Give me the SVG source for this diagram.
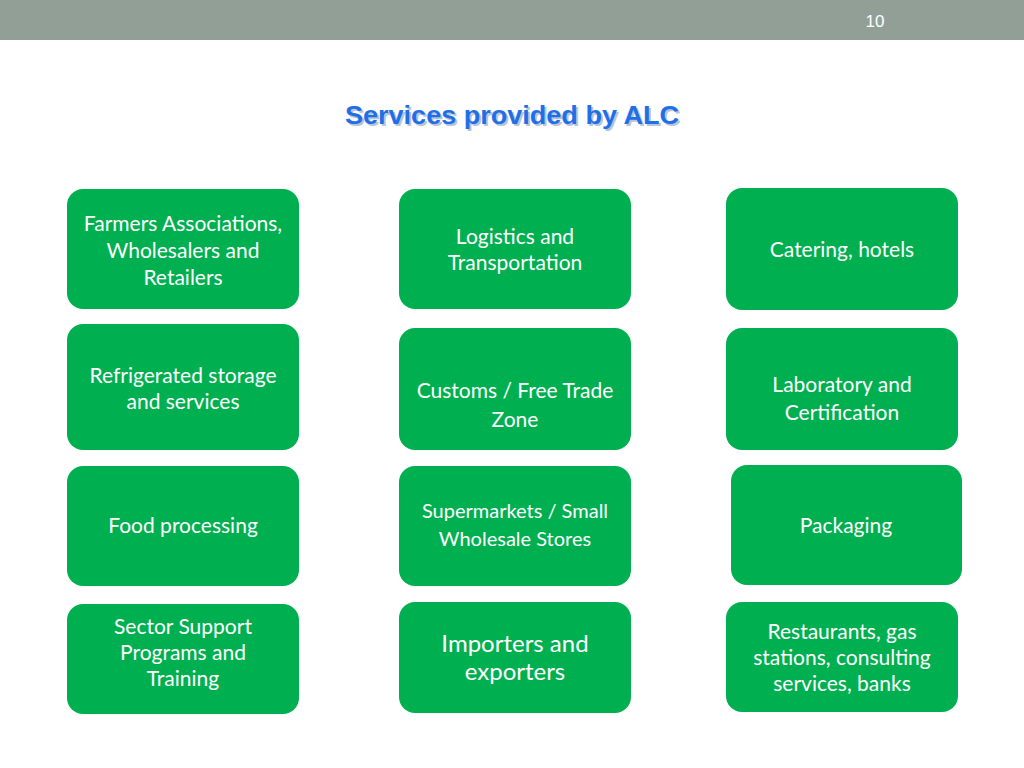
<svg xmlns="http://www.w3.org/2000/svg" width="1024" height="768" viewBox="0 0 1024 768">
<defs>
<style>
.box{fill:#00b050;}
.t{font-family:Lato,"Open Sans","Liberation Sans",sans-serif;font-size:21px;fill:#ffffff;text-anchor:middle;dominant-baseline:central;}
.title{font-family:"Liberation Sans",Arial,sans-serif;font-weight:bold;font-size:26px;fill:#1f6fe6;text-anchor:middle;}
.shadow{font-family:"Liberation Sans",Arial,sans-serif;font-weight:bold;font-size:26px;fill:#b8c4d8;text-anchor:middle;}
</style>
</defs>
<rect x="0" y="0" width="1024" height="768" fill="#ffffff"/>
<rect x="0" y="0" width="1024" height="40" fill="#919f97"/>
<text x="875" y="21" font-family="'Liberation Sans',Arial,sans-serif" font-size="17" fill="#ffffff" text-anchor="middle" dominant-baseline="central">10</text>
<text class="shadow" x="514" y="126" textLength="334" lengthAdjust="spacingAndGlyphs">Services provided by ALC</text>
<text class="title" x="512" y="124" textLength="334" lengthAdjust="spacingAndGlyphs">Services provided by ALC</text>

<g id="n1"><rect class="box" x="67" y="189" width="232" height="120" rx="16"/>
<text class="t" x="183" y="222">Farmers Associations,</text><text class="t" x="183" y="249">Wholesalers and</text><text class="t" x="183" y="276">Retailers</text></g>
<g id="n2"><rect class="box" x="399" y="189" width="232" height="120" rx="16"/>
<text class="t" x="515" y="235">Logistics and</text><text class="t" x="515" y="261">Transportation</text></g>
<g id="n3"><rect class="box" x="726" y="188" width="232" height="122" rx="16"/>
<text class="t" x="842" y="248">Catering, hotels</text></g>

<g id="n4"><rect class="box" x="67" y="324" width="232" height="126" rx="16"/>
<text class="t" x="183" y="374">Refrigerated storage</text><text class="t" x="183" y="400">and services</text></g>
<g id="n5"><rect class="box" x="399" y="328" width="232" height="122" rx="16"/>
<text class="t" x="515" y="389">Customs / Free Trade</text><text class="t" x="515" y="418">Zone</text></g>
<g id="n6"><rect class="box" x="726" y="328" width="232" height="122" rx="16"/>
<text class="t" x="842" y="383">Laboratory and</text><text class="t" x="842" y="411">Certification</text></g>

<g id="n7"><rect class="box" x="67" y="466" width="232" height="120" rx="16"/>
<text class="t" x="183" y="524">Food processing</text></g>
<g id="n8"><rect class="box" x="399" y="466" width="232" height="120" rx="16"/>
<text class="t" x="515" y="510" style="font-size:20px">Supermarkets / Small</text><text class="t" x="515" y="538" style="font-size:20px">Wholesale Stores</text></g>
<g id="n9"><rect class="box" x="731" y="465" width="231" height="120" rx="16"/>
<text class="t" x="846" y="524">Packaging</text></g>

<g id="n10"><rect class="box" x="67" y="604" width="232" height="110" rx="16"/>
<text class="t" x="183" y="625">Sector Support</text><text class="t" x="183" y="651">Programs and</text><text class="t" x="183" y="677">Training</text></g>
<g id="n11"><rect class="box" x="399" y="602" width="232" height="111" rx="16"/>
<text class="t" x="515" y="642" style="font-size:24px">Importers and</text><text class="t" x="515" y="670" style="font-size:24px">exporters</text></g>
<g id="n12"><rect class="box" x="726" y="602" width="232" height="110" rx="16"/>
<text class="t" x="842" y="630">Restaurants, gas</text><text class="t" x="842" y="656">stations, consulting</text><text class="t" x="842" y="682">services, banks</text></g>

<g id="connectors"></g>
</svg>
